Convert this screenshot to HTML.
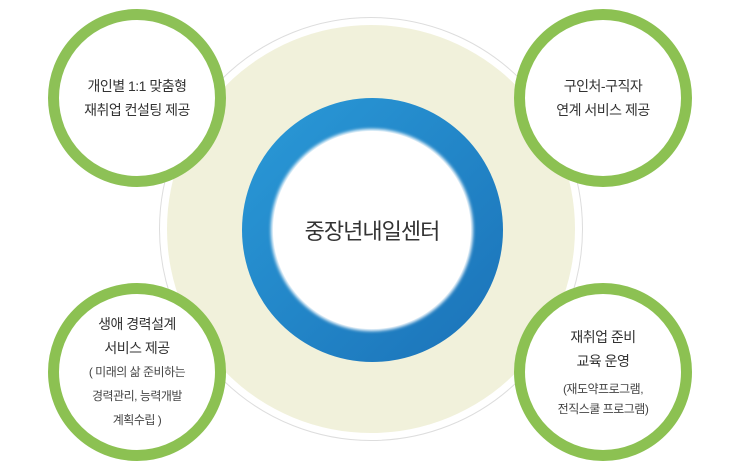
<!DOCTYPE html>
<html><head><meta charset="utf-8"><style>
body{margin:0;width:740px;height:466px;background:#fff;overflow:hidden;position:relative;font-family:"Liberation Sans","Noto Sans CJK KR",sans-serif;color:#333}
.c{position:absolute;border-radius:50%;box-sizing:border-box}
.g{width:178px;height:178px;border:11px solid #8cc152;background:#fff;display:flex;flex-direction:column;align-items:center;justify-content:center;text-align:center;font-size:14px;line-height:24px;letter-spacing:-0.5px;background-clip:padding-box}
.s{font-size:12px;line-height:24px;color:#444}
</style></head><body>
<div class="c" style="left:159px;top:17px;width:424px;height:424px;border:1px solid #ddd;background:#fff"></div>
<div class="c" style="left:167px;top:25px;width:408px;height:408px;background:#f1f1db"></div>
<div class="c" style="left:242px;top:98px;width:261px;height:264px;background:linear-gradient(135deg,#2a9ad8,#1b72b8)"></div>
<div class="c" style="left:273px;top:131px;width:198px;height:198px;background:#fff;box-shadow:0 0 3px 2px #fff;display:flex;align-items:center;justify-content:center;font-size:22px;letter-spacing:-1px">중장년내일센터</div>
<div class="c g" style="left:48px;top:9px;border-color:#8dc156">개인별 1:1 맞춤형<br>재취업 컨설팅 제공</div>
<div class="c g" style="left:514px;top:9px">구인처-구직자<br>연계 서비스 제공</div>
<div class="c g" style="left:48px;top:283px"><div>생애 경력설계<br>서비스 제공</div><div class="s">( 미래의 삶 준비하는<br>경력관리, 능력개발<br>계획수립 )</div></div>
<div class="c g" style="left:514px;top:283px"><div>재취업 준비<br>교육 운영</div><div class="s" style="margin-top:6px;line-height:20px">(재도약프로그램,<br>전직스쿨 프로그램)</div></div>
</body></html>
